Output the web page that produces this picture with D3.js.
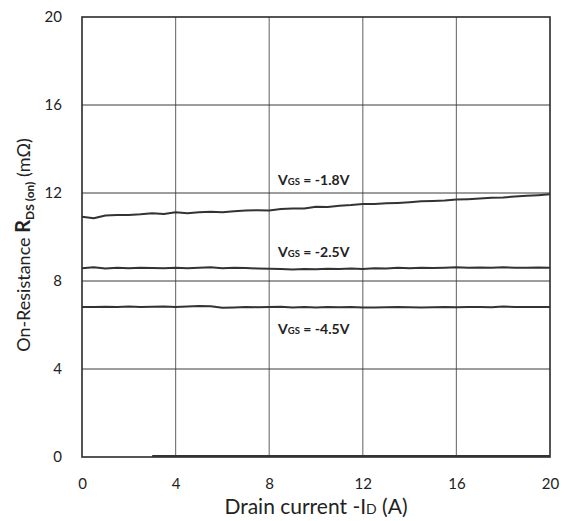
<!DOCTYPE html>
<html>
<head>
<meta charset="utf-8">
<script src="https://d3js.org/d3.v7.min.js"></script>
<style>
  body { margin: 0; background: #fff; }
  svg { display: block; }
</style>
</head>
<body>
<svg id="chart"></svg>
<script>
    var width = 569;
    var height = 521;
    var margin = ({ top: 17, right: 19, bottom: 64, left: 82 });

    // drain current -ID (A), sampled every 0.5 A
    const current = d3.range(0, 20.001, 0.5);

    // RDS(on) in mOhm
    const vgs18 = [10.92, 10.85, 10.98, 11.0, 11.0, 11.03, 11.08, 11.05, 11.12, 11.08,
        11.12, 11.15, 11.13, 11.17, 11.2, 11.22, 11.2, 11.27, 11.3, 11.3,
        11.38, 11.36, 11.42, 11.45, 11.5, 11.5, 11.53, 11.55, 11.58, 11.62,
        11.64, 11.66, 11.7, 11.72, 11.75, 11.78, 11.8, 11.84, 11.87, 11.9, 11.94];
    const vgs25 = [8.58, 8.62, 8.57, 8.6, 8.58, 8.6, 8.59, 8.58, 8.6, 8.58,
        8.6, 8.62, 8.58, 8.6, 8.59, 8.57, 8.56, 8.55, 8.52, 8.55,
        8.53, 8.56, 8.54, 8.57, 8.55, 8.58, 8.57, 8.6, 8.58, 8.6,
        8.59, 8.6, 8.62, 8.6, 8.61, 8.6, 8.62, 8.6, 8.6, 8.61, 8.6];
    const vgs45 = [6.82, 6.82, 6.83, 6.82, 6.84, 6.82, 6.83, 6.84, 6.82, 6.84,
        6.86, 6.85, 6.78, 6.8, 6.82, 6.81, 6.82, 6.83, 6.8, 6.82,
        6.8, 6.82, 6.81, 6.82, 6.8, 6.8, 6.81, 6.82, 6.81, 6.8,
        6.81, 6.82, 6.81, 6.82, 6.82, 6.81, 6.84, 6.82, 6.82, 6.82, 6.82];

    // flat trace sitting on the axis
    const zeroX = [3, 20];
    const zeroY = [0.04, 0.04];

    const xTicks = [0, 4, 8, 12, 16, 20];
    const yTicks = [0, 4, 8, 12, 16, 20];

    const seriesNames = ["-1.8V", "-2.5V", "-4.5V"];
    const labelAt = [[8.38, 12.36], [8.38, 9.09], [8.38, 5.59]];

    var x_scale = d3.scaleLinear()
        .domain([0, 20])
        .range([margin.left, width - margin.right]);
    var y_scale = d3.scaleLinear()
        .domain([0, 20])
        .range([height - margin.bottom, margin.top]);

    var svg = d3.select('#chart')
        .attr('width', width)
        .attr('height', height)
        .attr('font-family', 'Lato, "Open Sans", sans-serif');

    // grid
    svg.append('g')
        .selectAll('line')
        .data(xTicks.slice(1, -1))
        .join('line')
        .attr('x1', d => x_scale(d)).attr('x2', d => x_scale(d))
        .attr('y1', y_scale(0)).attr('y2', y_scale(20))
        .attr('stroke', '#7a7a7a')
        .attr('stroke-width', 1.2);
    svg.append('g')
        .selectAll('line')
        .data(yTicks.slice(1, -1))
        .join('line')
        .attr('y1', d => y_scale(d)).attr('y2', d => y_scale(d))
        .attr('x1', x_scale(0)).attr('x2', x_scale(20))
        .attr('stroke', '#3c3c3c')
        .attr('stroke-width', 1.2);

    // frame
    svg.append('rect')
        .attr('x', x_scale(0))
        .attr('y', y_scale(20))
        .attr('width', x_scale(20) - x_scale(0))
        .attr('height', y_scale(0) - y_scale(20))
        .attr('fill', 'none')
        .attr('stroke', '#2b2b2b')
        .attr('stroke-width', 1.6);

    // axes (labels only)
    const xAxis = g => g
        .attr('transform', `translate(0,${height - margin.bottom})`)
        .call(d3.axisBottom(x_scale).tickValues(xTicks).tickSize(0).tickPadding(21))
        .call(g => g.select('.domain').remove())
        .call(g => g.selectAll('text')
            .attr('font-size', 15)
            .attr('font-family', 'Lato, "Open Sans", sans-serif')
            .attr('fill', '#222'));
    const yAxis = g => g
        .attr('transform', `translate(${margin.left},0)`)
        .call(d3.axisLeft(y_scale).tickValues(yTicks).tickSize(0).tickPadding(20))
        .call(g => g.select('.domain').remove())
        .call(g => g.selectAll('text')
            .attr('font-size', 15)
            .attr('font-family', 'Lato, "Open Sans", sans-serif')
            .attr('fill', '#222'));
    svg.append('g').call(xAxis);
    svg.append('g').call(yAxis);

    // curves
    var line = d3.line()
        .x(d => x_scale(d[0]))
        .y(d => y_scale(d[1]));

    var curves = [vgs18, vgs25, vgs45].map(vals => current.map((c, i) => [c, vals[i]]));
    curves.push(zeroX.map((c, i) => [c, zeroY[i]]));

    svg.append('g')
        .selectAll('path')
        .data(curves)
        .join('path')
        .attr('d', line)
        .attr('fill', 'none')
        .attr('stroke', '#333')
        .attr('stroke-width', 2)
        .attr('stroke-linejoin', 'round');

    // curve labels
    var lbl = svg.append('g')
        .attr('font-weight', 'bold')
        .attr('fill', '#222')
        .selectAll('text')
        .data(seriesNames)
        .join('text')
        .attr('x', (d, i) => x_scale(labelAt[i][0]))
        .attr('y', (d, i) => y_scale(labelAt[i][1]))
        .attr('font-size', 14);
    lbl.append('tspan').text('V');
    lbl.append('tspan').attr('font-size', 9.5).text('GS');
    lbl.append('tspan').text(d => ' = ' + d);

    // x title
    var xt = svg.append('text')
        .attr('x', (x_scale(0) + x_scale(20)) / 2)
        .attr('y', 514)
        .attr('text-anchor', 'middle')
        .attr('font-size', 21)
        .attr('fill', '#222');
    xt.append('tspan').text('Drain current -I');
    xt.append('tspan').attr('font-size', 14).text('D');
    xt.append('tspan').text(' (A)');

    // y title
    var yt = svg.append('text')
        .attr('transform', `translate(30,${(y_scale(0) + y_scale(20)) / 2 + 8}) rotate(-90)`)
        .attr('text-anchor', 'middle')
        .attr('font-size', 18)
        .attr('fill', '#222');
    yt.append('tspan').text('On-Resistance  ');
    yt.append('tspan').attr('font-weight', 'bold').attr('font-size', 20).text('R');
    yt.append('tspan').attr('font-weight', 'bold').attr('font-size', 12).attr('dy', 4).text('DS (on)');
    yt.append('tspan').attr('dy', -4).text(' (mΩ)');
</script>
</body>
</html>
